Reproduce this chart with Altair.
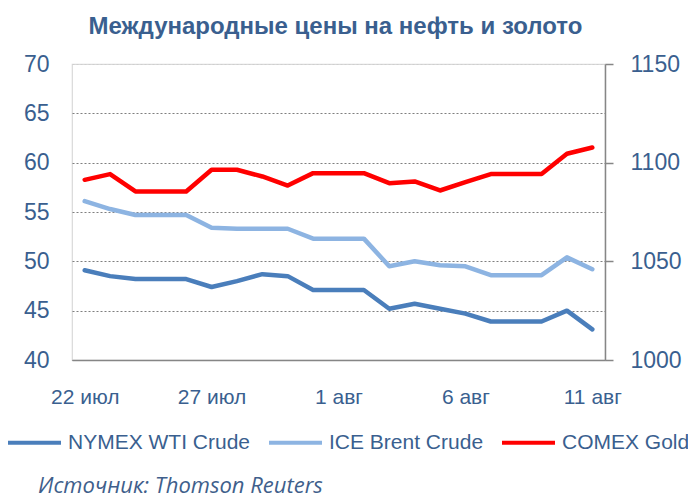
import altair as alt
import pandas as pd

dates = ["22 июл", "23 июл", "24 июл", "25 июл", "26 июл", "27 июл", "28 июл",
         "29 июл", "30 июл", "31 июл", "1 авг", "2 авг", "3 авг", "4 авг",
         "5 авг", "6 авг", "7 авг", "8 авг", "9 авг", "10 авг", "11 авг"]
wti = [49.1, 48.5, 48.2, 48.2, 48.2, 47.4, 48.0, 48.7, 48.5, 47.1, 47.1,
       47.1, 45.2, 45.7, 45.2, 44.7, 43.9, 43.9, 43.9, 45.0, 43.1]
brent = [56.1, 55.3, 54.7, 54.7, 54.7, 53.4, 53.3, 53.3, 53.3, 52.3, 52.3,
         52.3, 49.5, 50.0, 49.6, 49.5, 48.6, 48.6, 48.6, 50.4, 49.2]
gold = [1091.3, 1094.2, 1085.4, 1085.4, 1085.4, 1096.4, 1096.4, 1093.0, 1088.4,
        1094.7, 1094.7, 1094.7, 1089.6, 1090.5, 1085.9, 1090.1, 1094.2, 1094.2,
        1094.2, 1104.5, 1107.7]
series_names = ["NYMEX WTI Crude", "ICE Brent Crude", "COMEX Gold"]
series_colors = ["#4A7EBB", "#8DB4E2", "#FF0000"]
x_ticks = ["22 июл", "27 июл", "1 авг", "6 авг", "11 авг"]
title_text = "Международные цены на нефть и золото"
source_text = "Источник: Thomson Reuters"

oil = pd.DataFrame({
    "date": dates * 2,
    "value": wti + brent,
    "series": [series_names[0]] * len(dates) + [series_names[1]] * len(dates),
})
gold_df = pd.DataFrame({"date": dates, "value": gold, "series": series_names[2]})

FONT = "Arial, Liberation Sans, sans-serif"
TXT = "#3A5F8F"

x_enc = alt.X("date:N", sort=dates, title=None,
              scale=alt.Scale(type="point", padding=0.5),
              axis=alt.Axis(values=x_ticks, labelAngle=0, ticks=False,
                            domain=True, domainColor="#868686", domainWidth=1.5,
                            labelFontSize=21, labelPadding=26, labelColor=TXT,
                            labelFont=FONT, grid=False))

color_scale = alt.Scale(domain=series_names, range=series_colors)
legend = alt.Legend(title=None, orient="none", legendX=-66, legendY=350,
                    direction="horizontal", symbolType="stroke",
                    symbolSize=2809, symbolStrokeWidth=4, labelFontSize=21,
                    labelFont=FONT, labelColor=TXT, labelOffset=5,
                    columnPadding=10, labelLimit=400)

oil_lines = alt.Chart(oil).mark_line(strokeWidth=4.5, strokeCap="round",
                                     strokeJoin="round").encode(
    x=x_enc,
    y=alt.Y("value:Q", title=None,
            scale=alt.Scale(domain=[40, 70], nice=False, zero=False),
            axis=alt.Axis(values=[40, 45, 50, 55, 60, 65, 70], orient="left",
                          domain=False, ticks=False, labelFontSize=23,
                          labelFont=FONT, labelColor=TXT, labelPadding=23,
                          grid=True, gridDash=[2, 2], gridWidth=1.2,
                          gridColor={"condition": {"test": "datum.value === 70",
                                                   "value": "#cfcfcf"},
                                     "value": "#7f7f7f"})),
    color=alt.Color("series:N", scale=color_scale, sort=series_names, legend=legend),
    detail="series:N",
)

gold_line = alt.Chart(gold_df).mark_line(strokeWidth=4.5, strokeCap="round",
                                         strokeJoin="round").encode(
    x=x_enc,
    y=alt.Y("value:Q", title=None,
            scale=alt.Scale(domain=[1000, 1150], nice=False, zero=False),
            axis=alt.Axis(values=[1000, 1050, 1100, 1150], orient="right",
                          format="d",
                          domain=True, domainColor="#868686", domainWidth=1.5,
                          ticks=True, tickSize=8, tickColor="#868686",
                          tickWidth=1.5, labelFontSize=23, labelFont=FONT,
                          labelColor=TXT, labelPadding=17, grid=False)),
    color=alt.Color("series:N", scale=color_scale, sort=series_names, legend=legend),
)

source = alt.Chart(pd.DataFrame({"t": [source_text]})).mark_text(
    align="left", baseline="alphabetic", font="Open Sans", fontStyle="italic",
    fontSize=22, color="#3F5F8C",
).encode(x=alt.value(-34), y=alt.value(429), text="t:N")

chart = alt.layer(oil_lines, gold_line, source).resolve_scale(
    y="independent"
).properties(
    width=533, height=296,
    title=alt.TitleParams(title_text, font=FONT, fontSize=24, fontWeight="bold",
                          color=TXT, anchor="middle", dx=-3, dy=-10),
    autosize=alt.AutoSizeParams(type="none"),
    padding={"left": 64, "top": 56, "right": 83, "bottom": 140},
).configure_view(
    stroke="#d9d9d9", strokeWidth=1.2
)

chart.save("out.html", embed_options={"renderer": "svg", "actions": False})
